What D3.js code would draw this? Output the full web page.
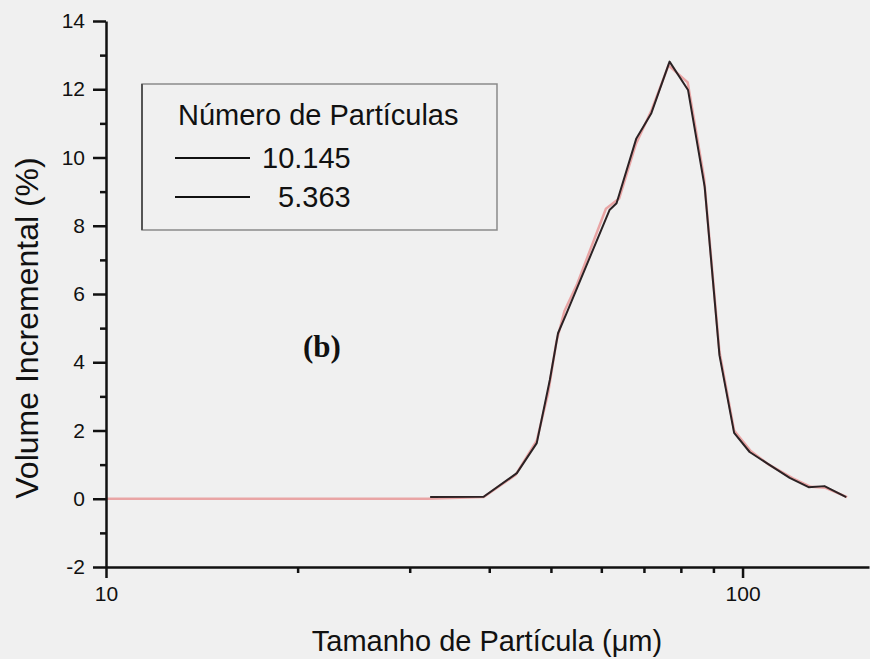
<!DOCTYPE html>
<html>
<head>
<meta charset="utf-8">
<script src="https://cdn.jsdelivr.net/npm/d3@7"></script>
<style>
  body { margin: 0; background: #f0f0f0; }
  svg { display: block; font-family: Arial, "Liberation Sans", sans-serif; }
</style>
</head>
<body>
<div class="chart"></div>
<script>
// particle size (um) and incremental volume (%)
const size10145 = [32.3, 39.2, 44.2, 47.5, 49.8, 51.3, 52.9, 61.8, 63.4, 68.1, 71.9, 76.8, 82.1, 87.2, 92, 97, 102.6, 109, 118.6, 127, 134.5, 145.5];
const vol10145  = [0.05, 0.06, 0.75, 1.63, 3.48, 4.85, 5.43, 8.46, 8.66, 10.56, 11.3, 12.81, 11.98, 9.14, 4.2, 1.93, 1.37, 1.05, 0.61, 0.34, 0.37, 0.05];

const size5363 = [10, 32, 39.2, 44, 47.5, 49.5, 51, 52.5, 55, 61, 64, 68, 72, 76.5, 82, 87, 92, 97, 103, 110, 120, 128, 135, 146];
const vol5363  = [0, 0, 0.05, 0.7, 1.7, 3.1, 4.6, 5.5, 6.3, 8.5, 8.8, 10.4, 11.4, 12.7, 12.2, 9.4, 4.3, 2.0, 1.4, 1.0, 0.6, 0.35, 0.32, 0.05];

const yMajor = [-2, 0, 2, 4, 6, 8, 10, 12, 14];
const yMinor = [-1, 1, 3, 5, 7, 9, 11, 13];
const xMajor = [10, 100];
const xMinor = [20, 30, 40, 50, 60, 70, 80, 90];

const legendTitle = "Número de Partículas";
const legendLabels = ["10.145", "  5.363"];

const width = 870, height = 659;
const font = "Arial, 'Liberation Sans', sans-serif";

const svg = d3.select(".chart")
    .append("svg")
    .attr("width", width)
    .attr("height", height);

const xScale = d3.scaleLog()
    .domain([10, 158])
    .range([106, 869]);

const yScale = d3.scaleLinear()
    .domain([-2, 14])
    .range([567, 21]);

// curves: pink one below, dark one on top
const line = d3.line()
    .x(d => xScale(d[0]))
    .y(d => yScale(d[1]));

svg.append("path")
    .datum(d3.zip(size5363, vol5363))
    .attr("fill", "none")
    .attr("stroke", "#e9a5a5")
    .attr("stroke-width", 2.5)
    .attr("d", line);

svg.append("path")
    .datum(d3.zip(size10145, vol10145))
    .attr("fill", "none")
    .attr("stroke", "#2b2224")
    .attr("stroke-width", 2)
    .attr("stroke-linejoin", "round")
    .attr("d", line);

// y axis
const yAxis = d3.axisLeft(yScale)
    .tickValues(yMajor)
    .tickSize(13)
    .tickSizeOuter(0)
    .tickPadding(8)
    .tickFormat(d => String(d));

const yAxisGroup = svg.append("g")
    .attr("transform", `translate(${xScale(10)},0)`)
    .call(yAxis);

svg.append("g")
    .attr("transform", `translate(${xScale(10)},0)`)
    .call(d3.axisLeft(yScale).tickValues(yMinor).tickSize(6).tickFormat(""))
    .call(g => g.select(".domain").remove());

// x axis
const xAxis = d3.axisBottom(xScale)
    .tickValues(xMajor)
    .tickSize(11)
    .tickSizeOuter(0)
    .tickPadding(8)
    .tickFormat(d => String(d));

const xAxisGroup = svg.append("g")
    .attr("transform", `translate(0,${yScale(-2)})`)
    .call(xAxis);

svg.append("g")
    .attr("transform", `translate(0,${yScale(-2)})`)
    .call(d3.axisBottom(xScale).tickValues(xMinor).tickSize(6).tickFormat(""))
    .call(g => g.select(".domain").remove());

svg.selectAll(".tick text")
    .attr("font-family", font)
    .attr("font-size", 21)
    .attr("fill", "#111");
svg.selectAll(".domain")
    .attr("stroke", "#111")
    .attr("stroke-width", 2.5);
svg.selectAll(".tick line")
    .attr("stroke", "#111")
    .attr("stroke-width", 2.5);

// axis titles
svg.append("text")
    .attr("x", 487)
    .attr("y", 651)
    .attr("text-anchor", "middle")
    .attr("font-size", 29)
    .attr("fill", "#111")
    .text("Tamanho de Partícula (μm)");

svg.append("text")
    .attr("transform", "translate(38,328) rotate(-90)")
    .attr("text-anchor", "middle")
    .attr("font-size", 32)
    .attr("fill", "#111")
    .text("Volume Incremental (%)");

// legend
const legend = svg.append("g");

legend.append("rect")
    .attr("x", 142)
    .attr("y", 84)
    .attr("width", 355)
    .attr("height", 146)
    .attr("fill", "none")
    .attr("stroke", "#8a8a8a")
    .attr("stroke-width", 1.5);

legend.append("line")
    .attr("x1", 142).attr("x2", 142)
    .attr("y1", 84).attr("y2", 230)
    .attr("stroke", "#555")
    .attr("stroke-width", 2);

legend.append("text")
    .attr("x", 178)
    .attr("y", 125)
    .attr("font-size", 29)
    .attr("fill", "#111")
    .text(legendTitle);

legend.selectAll(".entry")
    .data(legendLabels)
    .enter()
    .append("g")
    .attr("class", "entry")
    .each(function(d, i) {
        const g = d3.select(this);
        const y = 158 + i * 39;
        g.append("line")
            .attr("x1", 175).attr("x2", 250)
            .attr("y1", y).attr("y2", y)
            .attr("stroke", "#111")
            .attr("stroke-width", 2);
        g.append("text")
            .attr("x", 262)
            .attr("y", y + 10)
            .attr("font-size", 29)
            .attr("fill", "#111")
            .attr("xml:space", "preserve")
            .style("white-space", "pre")
            .text(d);
    });

// panel label
svg.append("text")
    .attr("x", 303)
    .attr("y", 357)
    .attr("font-family", "'Liberation Serif', 'Times New Roman', serif")
    .attr("font-weight", "bold")
    .attr("font-size", 31)
    .attr("fill", "#111")
    .text("(b)");
</script>
</body>
</html>
